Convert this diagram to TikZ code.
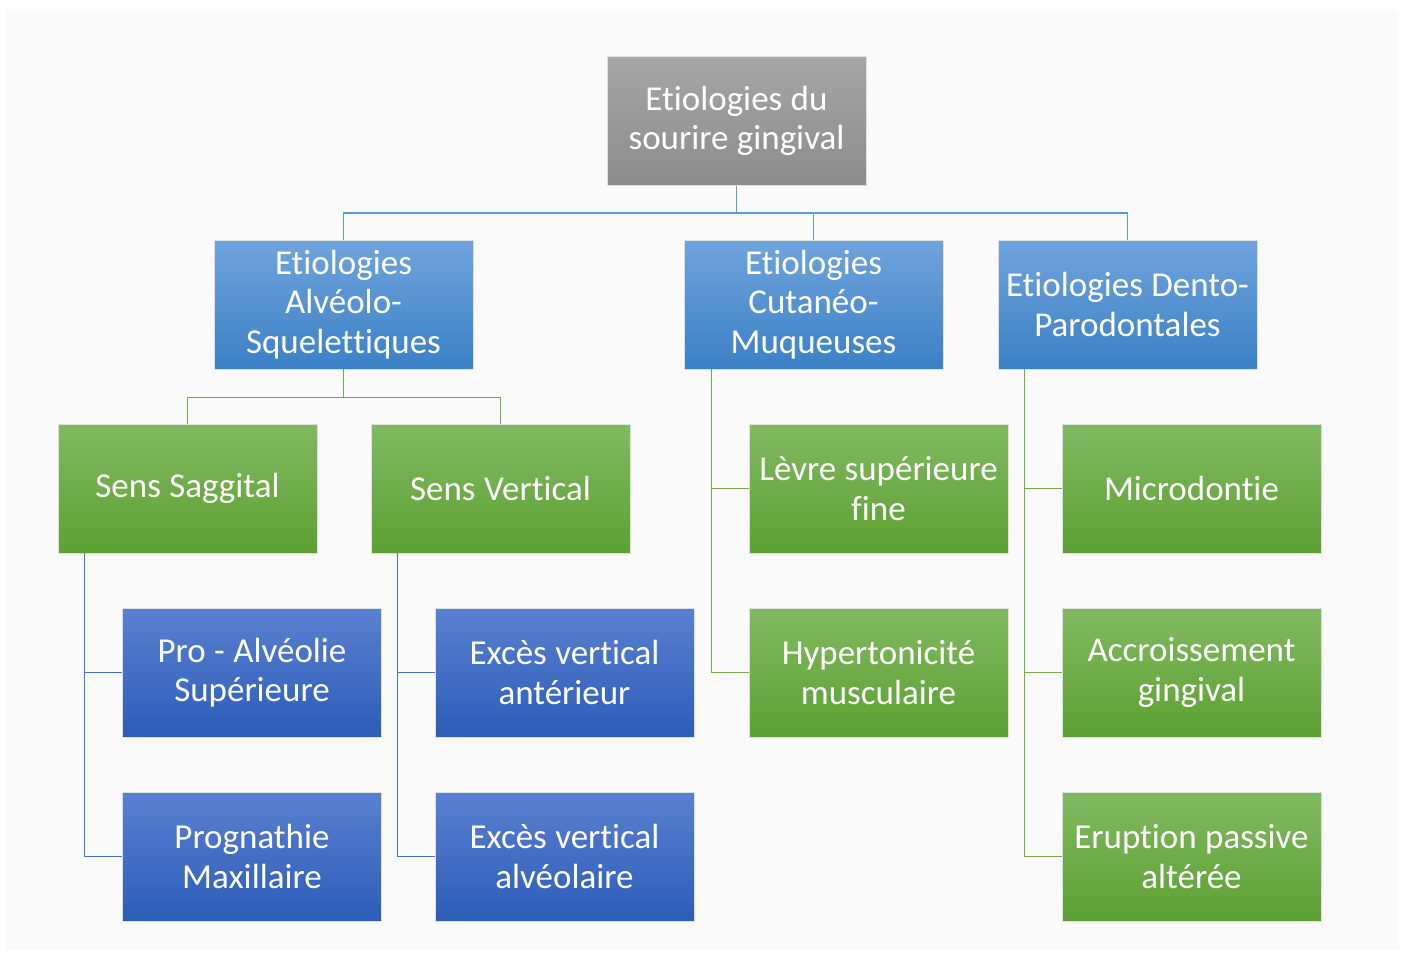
\documentclass[tikz,border=0pt]{standalone}
\usepackage{fontspec}
\setmainfont{Carlito}[RawFeature={-liga;-dlig;-clig;-calt}]
\newcommand{\nolig}{\kern0pt{}}
\newcommand{\tightsp}{\spaceskip=0.24em\relax}
\begin{document}
\begin{tikzpicture}[x=1pt,y=-1pt,
  base/.style={rectangle, minimum width=259pt, minimum height=129pt, inner sep=0pt,
    text width=256pt, align=center, text=white, draw=white!75!gray, line width=0.8pt,
    font=\fontsize{35}{39.5}\selectfont, execute at begin node=\tightsp},
  graybox/.style={base, top color=gray!70, bottom color=gray!90},
  bluebox/.style={base, top color={rgb,255:red,112;green,164;blue,219}, bottom color={rgb,255:red,59;green,128;blue,197}},
  greenbox/.style={base, top color={rgb,255:red,130;green,185;blue,98}, bottom color={rgb,255:red,92;green,160;blue,50}},
  dbluebox/.style={base, top color={rgb,255:red,90;green,128;blue,208}, bottom color={rgb,255:red,44;green,92;blue,184}},
  lineblue/.style={draw={rgb,255:red,91;green,155;blue,213}, line width=1.5pt},
  linegreen/.style={draw={rgb,255:red,112;green,173;blue,71}, line width=1.5pt},
  linedblue/.style={draw={rgb,255:red,68;green,114;blue,196}, line width=1.5pt}]
\useasboundingbox (0,0) rectangle (1406,955);
\fill[white] (0,0) rectangle (1406,955);
\fill[black!2] (6,9) rectangle (1399,950);

\node[graybox] (root) at (736.5,121) {Et\nolig iologies du\\sourire gingival};
\node[bluebox] (A) at (343.5,304.5) {Et\nolig iologies\\Alvéolo-\\Squelet\nolig t\nolig iques};
\node[bluebox] (B) at (813.5,304.5) {Et\nolig iologies\\Cutanéo-\\Muqueuses};
\node[bluebox] (C) at (1127.5,304.5) {Et\nolig iologies Dento-\\Parodontales};

\node[greenbox] (SS) at (187.5,488.5) {Sens Saggital};
\node[greenbox] (SV) at (500.5,488.5) {Sens Vert\nolig ical};
\node[greenbox] (L) at (878.5,488.5) {Lèvre supérieure\\fine};
\node[greenbox] (M) at (1191.5,488.5) {Microdont\nolig ie};

\node[dbluebox] (P) at (252,672.5) {Pro - Alvéolie\\Supérieure};
\node[dbluebox] (PM) at (252,856.5) {Prognathie\\Maxillaire};
\node[dbluebox] (EA) at (564.5,672.5) {Excès vert\nolig ical\\antérieur};
\node[dbluebox] (EAl) at (564.5,856.5) {Excès vert\nolig ical\\alvéolaire};
\node[greenbox] (H) at (878.5,672.5) {Hypertonicité\\musculaire};
\node[greenbox] (Acc) at (1191.5,672.5) {Accroissement\\gingival};
\node[greenbox] (Er) at (1191.5,856.5) {Erupt\nolig ion passive\\altérée};

\draw[lineblue] (root.south) -- ++(0,27) -| (A.north);
\draw[lineblue] (root.south) -- ++(0,27) -| (B.north);
\draw[lineblue] (root.south) -- ++(0,27) -| (C.north);

\draw[linegreen] (A.south) -- ++(0,28) -| (SS.north);
\draw[linegreen] (A.south) -- ++(0,28) -| (SV.north);

\draw[linedblue] ([xshift=27pt]SS.south west) |- (P.west);
\draw[linedblue] ([xshift=27pt]SS.south west) |- (PM.west);
\draw[linedblue] ([xshift=27pt]SV.south west) |- (EA.west);
\draw[linedblue] ([xshift=27pt]SV.south west) |- (EAl.west);

\draw[linegreen] ([xshift=28pt]B.south west) |- (L.west);
\draw[linegreen] ([xshift=28pt]B.south west) |- (H.west);
\draw[linegreen] ([xshift=27pt]C.south west) |- (M.west);
\draw[linegreen] ([xshift=27pt]C.south west) |- (Acc.west);
\draw[linegreen] ([xshift=27pt]C.south west) |- (Er.west);
\end{tikzpicture}
\end{document}
